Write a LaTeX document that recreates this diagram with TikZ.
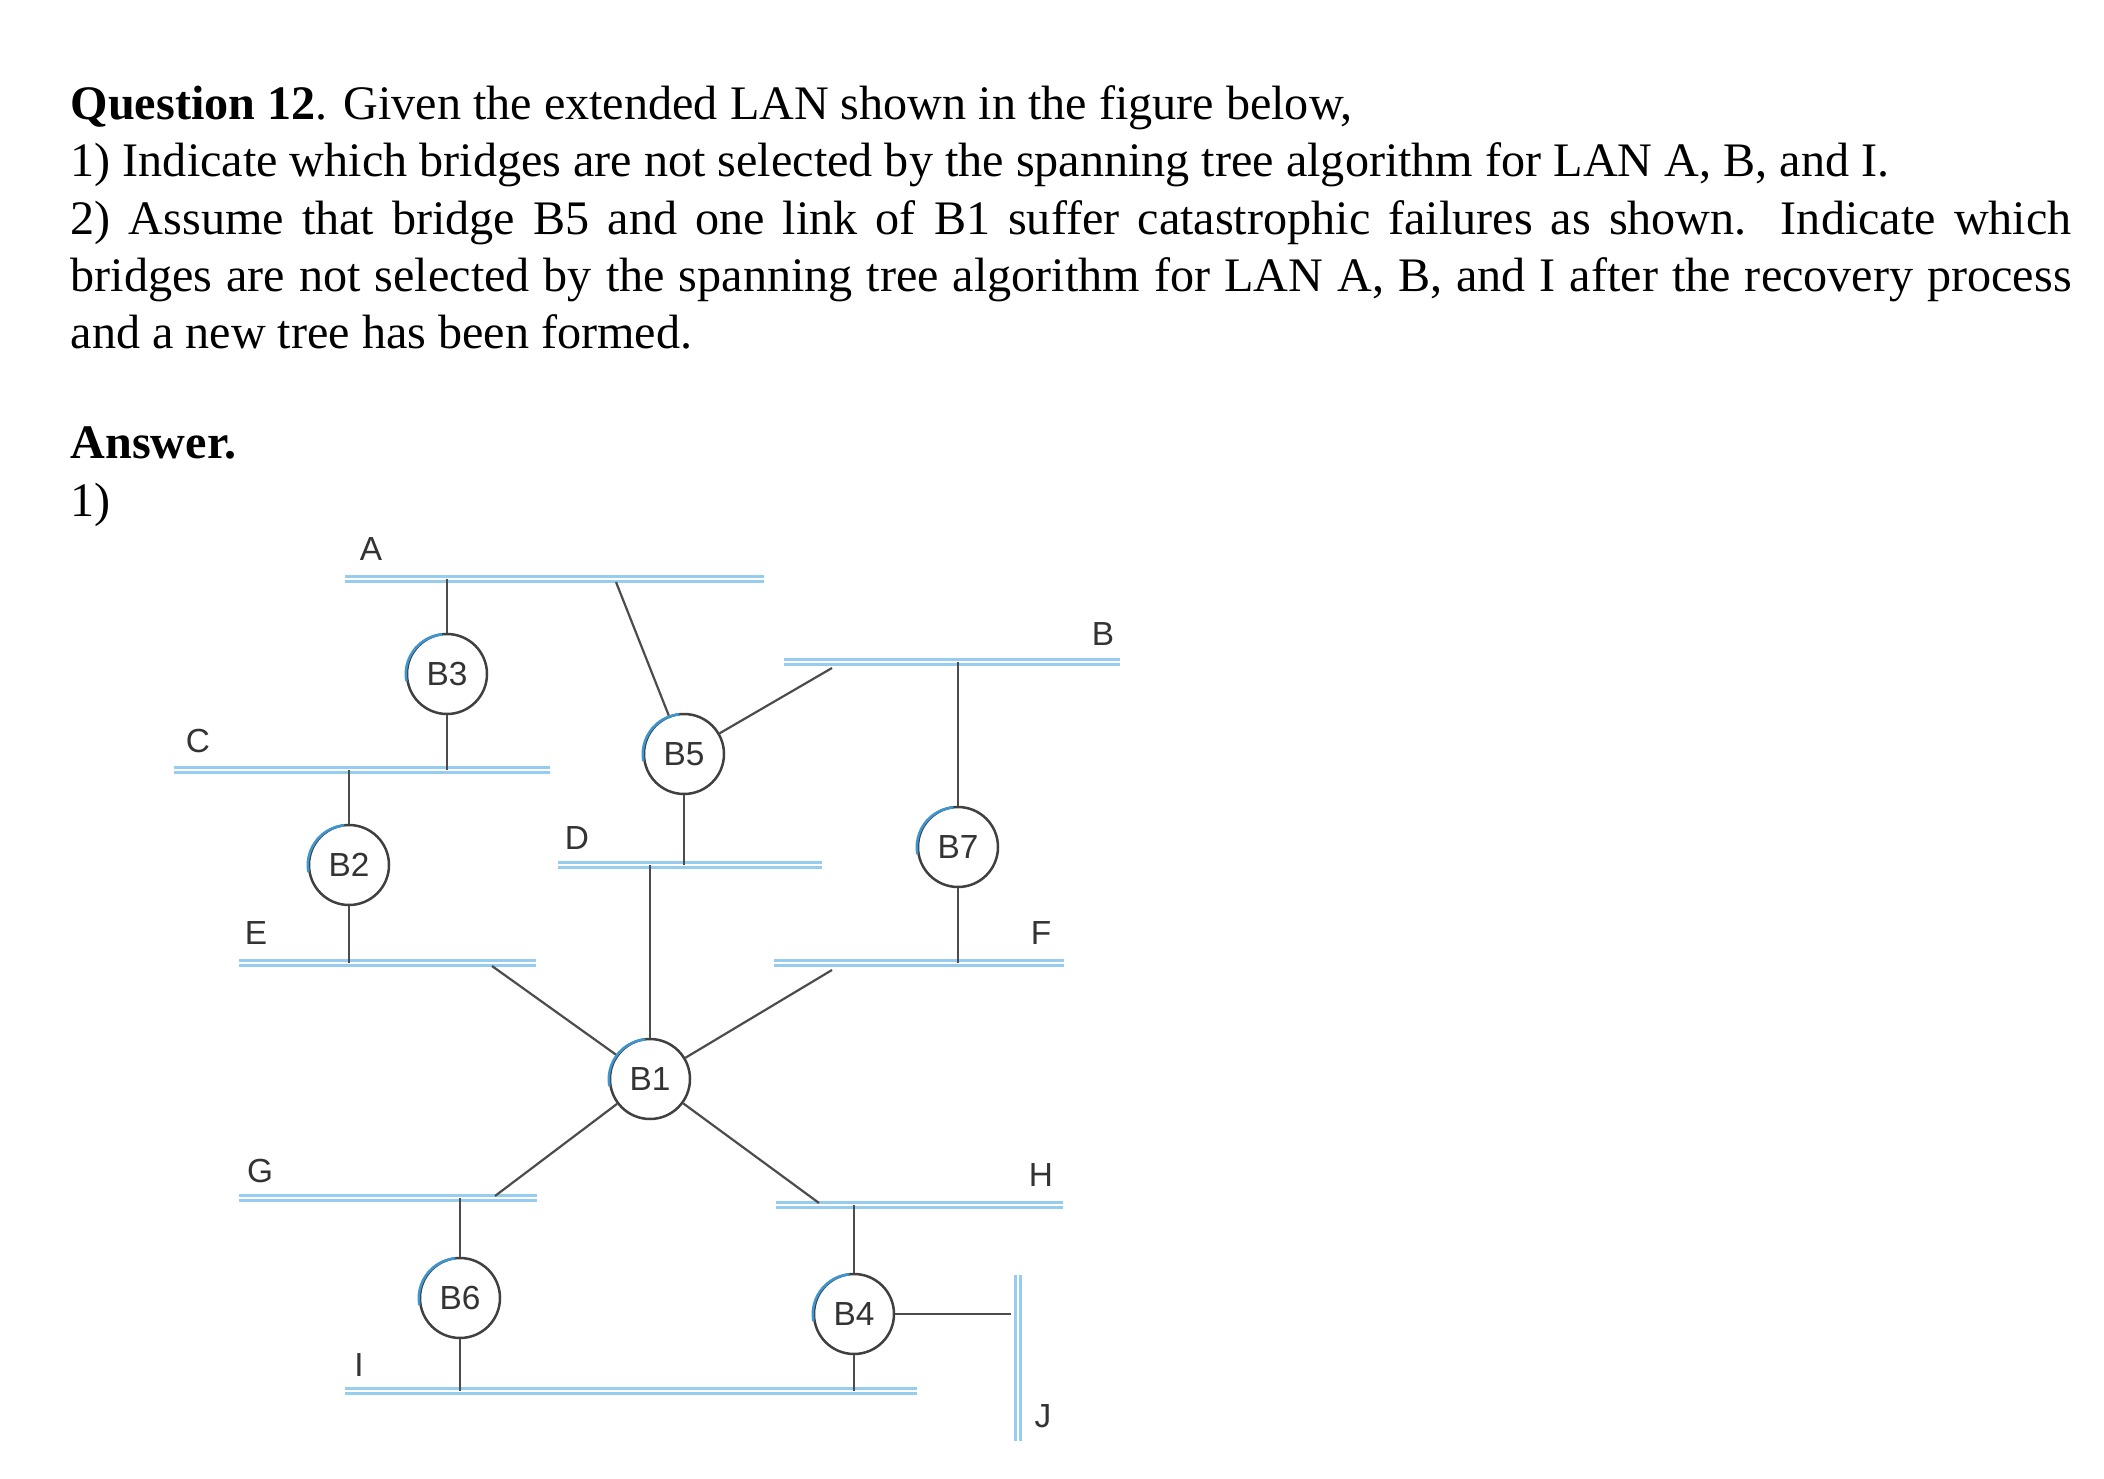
\documentclass[tikz,border=0pt]{standalone}
\usepackage{fontspec}
\setmainfont{Liberation Serif}
\setsansfont{Liberation Sans}
\definecolor{lanblue}{RGB}{150,205,238}
\definecolor{arcblue}{RGB}{60,150,210}
\begin{document}
\begin{tikzpicture}[x=0.1mm,y=-0.1mm,
  lan/.style={draw=lanblue,line width=0.3mm,double=white,double distance=0.12mm},
  br/.style={circle,draw=black!75,line width=0.25mm,fill=white,minimum size=8mm,inner sep=0pt,font=\sffamily\fontsize{9.5}{11}\selectfont,text=black!80},
  lbl/.style={font=\sffamily\fontsize{9.5}{11}\selectfont,text=black!80},
  wire/.style={draw=black!70,line width=0.22mm},
  hl/.style={draw=arcblue,line width=0.25mm}]
\useasboundingbox (0,0) rectangle (2104,1479);
\node[anchor=north west,inner sep=0pt,text width=200.1mm,align=justify,font=\fontsize{13.7}{16.3}\selectfont] (q) at (70,85)
{\textbf{Question 12}. Given the extended LAN shown in the figure below,\\
1) Indicate which bridges are not selected by the spanning tree algorithm for LAN A, B, and I.\\
2) Assume that bridge B5 and one link of B1 suffer catastrophic failures as shown. Indicate which\linebreak bridges are not selected by the spanning tree algorithm for LAN A, B, and I after the recovery process and a new tree has been formed.};
\node[anchor=base west,inner sep=0pt,font=\fontsize{13.7}{16.3}\selectfont\bfseries] (ans) at (70,458) {Answer.};
\node[anchor=base west,inner sep=0pt,font=\fontsize{13.7}{16.3}\selectfont] (one) at (70,516) {1)};
% LANs
\coordinate (Aw) at (345,579); \coordinate (Ae) at (764,579);
\coordinate (Bw) at (784,662); \coordinate (Be) at (1120,662);
\coordinate (Cw) at (174,770); \coordinate (Ce) at (550,770);
\coordinate (Dw) at (558,865); \coordinate (De) at (822,865);
\coordinate (Ew) at (239,963); \coordinate (Ee) at (536,963);
\coordinate (Fw) at (774,963); \coordinate (Fe) at (1064,963);
\coordinate (Gw) at (239,1198); \coordinate (Ge) at (537,1198);
\coordinate (Hw) at (776,1205); \coordinate (He) at (1063,1205);
\coordinate (Iw) at (345,1391); \coordinate (Ie) at (917,1391);
\coordinate (Jn) at (1018,1275); \coordinate (Js) at (1018,1441);
\foreach \a/\b in {Aw/Ae,Bw/Be,Cw/Ce,Dw/De,Ew/Ee,Fw/Fe,Gw/Ge,Hw/He,Iw/Ie,Jn/Js} \draw[lan] (\a) -- (\b);
\node[lbl] (lA) at (371,549) {A};
\node[lbl] (lB) at (1103,634) {B};
\node[lbl] (lC) at (198,741) {C};
\node[lbl] (lD) at (577,838) {D};
\node[lbl] (lE) at (256,933) {E};
\node[lbl] (lF) at (1041,933) {F};
\node[lbl] (lG) at (260,1171) {G};
\node[lbl] (lH) at (1041,1175) {H};
\node[lbl] (lI) at (359,1365) {I};
\node[lbl] (lJ) at (1043,1416) {J};
% attachment points
\coordinate (b5a) at (616,582); \coordinate (b5b) at (832,668);
\coordinate (b1e) at (492,966); \coordinate (b1f) at (832,970);
\coordinate (b1g) at (495,1196); \coordinate (b1h) at (819,1203);
\coordinate (b4j) at (1011,1314);
% bridges
\foreach \n/\x/\y in {B3/447/674,B5/684/754,B2/349/865,B7/958/847,B1/650/1079,B6/460/1298,B4/854/1314}
  \node[br] (\n) at (\x,\y) {\n};
% wires
\draw[wire] (B3) -- (B3 |- Aw); \draw[wire] (B3) -- (B3 |- Cw);
\draw[wire] (B5) -- (b5a); \draw[wire] (B5) -- (b5b); \draw[wire] (B5) -- (B5 |- Dw);
\draw[wire] (B2) -- (B2 |- Cw); \draw[wire] (B2) -- (B2 |- Ew);
\draw[wire] (B7) -- (B7 |- Bw); \draw[wire] (B7) -- (B7 |- Fw);
\draw[wire] (B1) -- (B1 |- Dw); \draw[wire] (B1) -- (b1e); \draw[wire] (B1) -- (b1f);
\draw[wire] (B1) -- (b1g); \draw[wire] (B1) -- (b1h);
\draw[wire] (B6) -- (B6 |- Gw); \draw[wire] (B6) -- (B6 |- Iw);
\draw[wire] (B4) -- (B4 |- Hw); \draw[wire] (B4) -- (B4 |- Iw); \draw[wire] (B4) -- (b4j);
% blue highlight arcs
\foreach \n in {B3,B5,B2,B7,B1,B6,B4}
  \draw[hl] (\n.190) arc[start angle=190,end angle=95,radius=4mm];
\end{tikzpicture}
\end{document}
